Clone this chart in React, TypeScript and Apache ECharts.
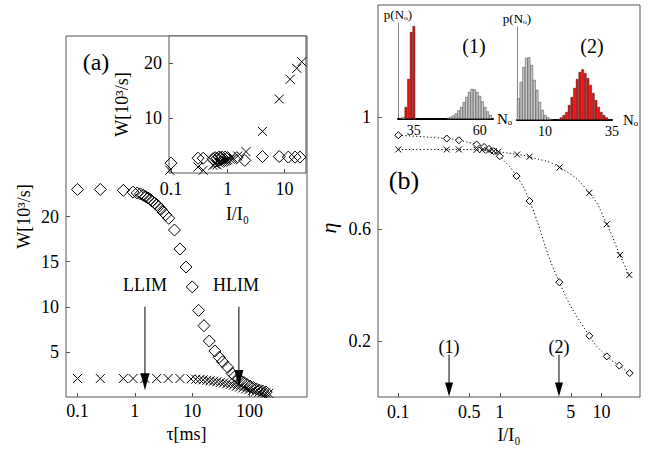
import React, { useEffect, useRef } from 'react';
import * as echarts from 'echarts';

// ---------- data ----------
// panel (a) main: W vs tau
const tauDiamond = [0.1, 0.25, 0.63, 0.93, 1.1, 1.25, 1.4, 1.55, 1.7, 1.85, 2.0, 2.2, 2.4, 2.6, 2.85, 3.1, 3.45, 3.9, 4.9, 6.1, 7.8, 10, 12.9, 16, 19.8, 24.8, 29.5, 33.8, 41.3, 49.7, 56, 63, 71, 80, 90, 102, 116, 132, 150, 170, 195];
const wDiamond = [23.0, 23.0, 22.9, 22.7, 22.6, 22.5, 22.35, 22.2, 22.05, 21.9, 21.7, 21.5, 21.3, 21.1, 20.8, 20.5, 20.2, 19.8, 18.5, 16.4, 14.4, 12.2, 9.6, 7.9, 6.2, 5.1, 4.4, 3.9, 3.3, 2.6, 2.3, 2.05, 1.8, 1.6, 1.4, 1.2, 1.05, 0.9, 0.75, 0.65, 0.55];
const tauCross = [0.1, 0.25, 0.63, 0.93, 1.5, 2.4, 3.8, 6.1, 9.5, 11.5, 13.5, 15.5, 18, 20.5, 23.5, 27, 31, 35, 40, 46, 52, 59, 67, 76, 86, 97, 112, 128, 146, 166, 190, 215];
const wCross = [2.05, 2.05, 2.05, 2.05, 2.05, 2.05, 2.05, 2.05, 2.0, 1.97, 1.93, 1.9, 1.85, 1.8, 1.75, 1.7, 1.62, 1.55, 1.48, 1.4, 1.3, 1.2, 1.1, 1.0, 0.9, 0.8, 0.7, 0.6, 0.55, 0.5, 0.45, 0.4];

// panel (a) inset: W vs I/I0
const insetICross = [0.095, 0.3, 0.37, 0.55, 0.6, 0.65, 0.7, 0.75, 0.8, 0.85, 0.9, 0.95, 1.0, 1.1, 1.25, 1.5, 2.1, 4.1, 8.1, 12.6, 16.5, 20.2];
const insetWCross = [0.5, 1.1, 0.5, 1.4, 1.6, 1.5, 1.8, 1.9, 2.0, 2.1, 2.2, 2.3, 2.4, 2.5, 2.7, 3.1, 3.9, 7.6, 13.5, 17.1, 19.1, 20.3];
const insetIDiamond = [0.1, 0.3, 0.37, 0.55, 0.6, 0.65, 0.7, 0.75, 0.8, 0.9, 1.0, 1.45, 2.0, 4.1, 8.1, 11.7, 15.4, 18.8];
const insetWDiamond = [1.8, 2.7, 2.7, 2.6, 2.8, 2.7, 2.9, 2.8, 2.9, 2.9, 2.8, 2.8, 2.3, 3.0, 3.0, 2.9, 2.9, 2.9];

// panel (b): eta vs I/I0
const bIDiamond = [0.1, 0.3, 0.395, 0.59, 0.70, 0.78, 0.87, 1.0, 1.46, 1.96, 3.85, 7.6, 11.3, 15.0, 19.0];
const bEtaDiamond = [0.935, 0.923, 0.917, 0.902, 0.893, 0.886, 0.878, 0.860, 0.789, 0.70, 0.41, 0.2185, 0.145, 0.112, 0.0855];
const bICross = [0.1, 0.3, 0.395, 0.59, 0.67, 0.78, 0.87, 0.97, 1.48, 1.96, 3.88, 7.6, 11.3, 15.2, 18.8];
const bEtaCross = [0.884, 0.884, 0.884, 0.883, 0.882, 0.880, 0.878, 0.876, 0.866, 0.858, 0.82, 0.729, 0.617, 0.507, 0.436];

// histograms p(No)
const h1GrayN = [30, 31, 48, 49, 50, 51, 52, 53, 54, 55, 56, 57, 58, 59, 60, 61, 62, 63, 64];
const h1Gray = [0.8, 2, 1, 2, 3.5, 5.5, 8.5, 12, 17, 22, 27, 30, 29.5, 27, 23, 17.5, 12, 7.5, 4];
const h1RedN = [32, 33, 34, 35];
const h1Red = [12, 40, 87, 93];
const h2GrayN = [0, 1, 2, 3, 4, 5, 6, 7, 8, 9, 10, 11, 12, 13];
const h2Gray = [21.7, 38, 53, 62, 62.7, 55, 40, 30, 18, 10, 5, 2.7, 1.2, 0.6];
const h2RedN = [15, 16, 17, 18, 19, 20, 21, 22, 23, 24, 25, 26, 27, 28, 29, 30, 31, 32, 33, 34];
const h2Red = [1, 2.5, 5, 8, 15, 23, 32, 41, 48, 50.7, 47, 42, 35, 27, 20, 13, 8, 5, 2.7, 1];

// tick labels
const tauTicks = [0.1, 1, 10, 100];
const wTicks = [5, 10, 15, 20];
const insetITicks = [0.1, 1, 10];
const insetWTicks = [10, 20];
const bITicks = [0.1, 0.5, 1, 5, 10];
const bEtaTicks = [0.2, 0.6, 1];
const h1Ticks = [35, 60];
const h2Ticks = [10, 35];

// annotations
const limitNames = ['LLIM', 'HLIM'];
const limitTau = [1.5, 65];
const stateNames = ['(1)', '(2)'];
const stateI = [0.316, 3.82];

// ---------- helpers ----------
const FONT = '"Liberation Serif","Times New Roman",serif';
const BOX = '#555';
const lg = (v: number) => Math.log10(v);
const fmtLog = (v: number) => String(parseFloat(Math.pow(10, v).toPrecision(3)));
const fmtLin = (v: number) => String(parseFloat(v.toPrecision(3)));
const toPts = (xs: number[], ys: number[]) => xs.map((x, i) => [lg(x), ys[i]]);
const toBars = (ns: number[], hs: number[]) => ns.map((n, i) => [n, hs[i]]);
const CROSS = 'path://M0,0L10,10M10,0L0,10';

function boxAxis(gridIndex: number, min: number, max: number, ticks: number[], isLog: boolean, extra: any) {
  const vals = isLog ? ticks.map(lg) : ticks;
  return {
    type: 'value',
    gridIndex,
    min,
    max,
    axisLine: { show: false, onZero: false },
    splitLine: { show: false },
    axisTick: { show: true, inside: true, length: 4, customValues: vals, lineStyle: { color: BOX } },
    axisLabel: {
      customValues: vals,
      formatter: isLog ? fmtLog : fmtLin,
      fontFamily: FONT,
      fontSize: 18,
      color: '#000',
      margin: 7,
    },
    nameTextStyle: { fontFamily: FONT, fontSize: 18, color: '#000' },
    ...extra,
  };
}

function histX(gridIndex: number, min: number, max: number, ticks: number[]) {
  return {
    type: 'value',
    gridIndex,
    min,
    max,
    axisLine: { show: true, onZero: false, lineStyle: { color: '#000', width: 2 } },
    splitLine: { show: false },
    axisTick: { show: false },
    axisLabel: { customValues: ticks, fontFamily: FONT, fontSize: 14, color: '#000', margin: 4 },
    name: 'N\u2092',
    nameLocation: 'end',
    nameGap: 4,
    nameTextStyle: { fontFamily: FONT, fontSize: 15, color: '#000' },
  };
}

function histY(gridIndex: number, max: number) {
  return {
    type: 'value',
    gridIndex,
    min: 0,
    max,
    axisLine: { show: true, onZero: false, lineStyle: { color: '#888', width: 1 } },
    splitLine: { show: false },
    axisTick: { show: false },
    axisLabel: { show: false },
    name: 'p(N\u2092)',
    nameLocation: 'end',
    nameGap: 2,
    nameTextStyle: { fontFamily: FONT, fontSize: 13, color: '#000' },
  };
}

const openStyle = { color: 'transparent', borderColor: '#000', borderWidth: 1, opacity: 1 };

function scat(ax: number, data: any[], symbol: string, size: number) {
  return { type: 'scatter', xAxisIndex: ax, yAxisIndex: ax, data, symbol, symbolSize: size, itemStyle: openStyle, silent: true };
}

function bars(ax: number, data: any[], color: string) {
  return {
    type: 'bar',
    xAxisIndex: ax,
    yAxisIndex: ax,
    data,
    barWidth: 2.65,
    barGap: '-100%',
    itemStyle: { color, borderColor: '#222', borderWidth: 0.4 },
    silent: true,
  };
}

const labelStyle = { fontFamily: FONT, fontSize: 18, color: '#000', opacity: 1 };

function buildOption() {
  const series: any[] = [];
  // (a) main
  series.push(scat(0, toPts(tauDiamond, wDiamond), 'diamond', 12));
  series.push(scat(0, toPts(tauCross, wCross), CROSS, 9));
  // (a) inset
  series.push(scat(1, toPts(insetIDiamond, insetWDiamond), 'diamond', 12));
  series.push(scat(1, toPts(insetICross, insetWCross), CROSS, 9));
  // (b)
  const lineStyle = { color: '#000', width: 1, type: [1.2, 2.4] };
  series.push({
    type: 'line', xAxisIndex: 2, yAxisIndex: 2, data: toPts(bIDiamond, bEtaDiamond),
    smooth: 0.5, symbol: 'diamond', symbolSize: 7, showSymbol: true,
    lineStyle, itemStyle: { color: '#fff', borderColor: '#000', borderWidth: 1 }, silent: true,
  });
  series.push({
    type: 'line', xAxisIndex: 2, yAxisIndex: 2, data: toPts(bICross, bEtaCross),
    smooth: 0.5, symbol: CROSS, symbolSize: 6, showSymbol: true,
    lineStyle, itemStyle: { color: 'transparent', borderColor: '#000', borderWidth: 1 }, silent: true,
  });
  // histograms
  series.push(bars(3, toBars(h1GrayN, h1Gray), '#c8c8c8'));
  series.push(bars(3, toBars(h1RedN, h1Red), '#e81010'));
  series.push(bars(4, toBars(h2GrayN, h2Gray), '#c8c8c8'));
  series.push(bars(4, toBars(h2RedN, h2Red), '#e81010'));

  // arrows (a)
  const limHead = [1.7, 2.06];
  limitTau.forEach((t, i) => {
    series.push({
      type: 'line', xAxisIndex: 0, yAxisIndex: 0, data: [[lg(t), 10], [lg(t), limHead[i]]],
      symbol: 'none', lineStyle: { color: '#000', width: 1 }, silent: true,
    });
  });
  series.push({
    type: 'scatter', xAxisIndex: 0, yAxisIndex: 0,
    data: limitTau.map((t, i) => [lg(t), limHead[i]]),
    symbol: 'triangle', symbolSize: [9, 17], symbolRotate: 180,
    itemStyle: { color: '#000', opacity: 1 }, silent: true,
  });
  series.push({
    type: 'scatter', xAxisIndex: 0, yAxisIndex: 0,
    data: limitNames.map((n, i) => ({ name: n, value: [lg(limitTau[i]) - (i === 1 ? 0.05 : 0), 12.4] })),
    symbolSize: 1, itemStyle: { color: 'transparent', opacity: 1 },
    label: { show: true, position: 'inside', formatter: '{b}', ...labelStyle },
    silent: true,
  });
  // arrows (b)
  stateI.forEach((v) => {
    series.push({
      type: 'line', xAxisIndex: 2, yAxisIndex: 2, data: [[lg(v), 0.151], [lg(v), 0.027]],
      symbol: 'none', lineStyle: { color: '#000', width: 1 }, silent: true,
    });
  });
  series.push({
    type: 'scatter', xAxisIndex: 2, yAxisIndex: 2,
    data: stateI.map((v) => [lg(v), 0.027]),
    symbol: 'triangle', symbolSize: [8, 14], symbolRotate: 180,
    itemStyle: { color: '#000', opacity: 1 }, silent: true,
  });
  series.push({
    type: 'scatter', xAxisIndex: 2, yAxisIndex: 2,
    data: stateNames.map((n, i) => ({ name: n, value: [lg(stateI[i]), 0.18] })),
    symbolSize: 1, itemStyle: { color: 'transparent', opacity: 1 },
    label: { show: true, position: 'inside', formatter: '{b}', ...labelStyle },
    silent: true,
  });

  const gridBox = { show: true, borderColor: BOX, borderWidth: 1, backgroundColor: '#fff', containLabel: false };

  return {
    animation: false,
    backgroundColor: '#fff',
    textStyle: { fontFamily: FONT },
    grid: [
      { ...gridBox, left: 66, top: 36, width: 241, height: 361 },
      { ...gridBox, left: 169, top: 36, width: 137, height: 137 },
      { ...gridBox, left: 378, top: 5, width: 262, height: 392 },
      { show: false, left: 398, top: 23, width: 95, height: 96 },
      { show: false, left: 517, top: 27, width: 95, height: 93 },
    ],
    xAxis: [
      boxAxis(0, -1.2, 3.0, tauTicks, true, { name: '\u03c4[ms]', nameLocation: 'middle', nameGap: 27, axisLabel: { customValues: tauTicks.map(lg), formatter: fmtLog, fontFamily: FONT, fontSize: 18, color: '#000', margin: 5 } }),
      boxAxis(1, -1.035, 1.38, insetITicks, true, { name: 'I/I\u2080', nameLocation: 'middle', nameGap: 32 }),
      boxAxis(2, -1.2, 1.38, bITicks, true, { name: 'I/I\u2080', nameLocation: 'middle', nameGap: 28, axisLabel: { customValues: bITicks.map(lg), formatter: fmtLog, fontFamily: FONT, fontSize: 18, color: '#000', margin: 6 } }),
      histX(3, 29, 65, h1Ticks),
      histX(4, -0.5, 35, h2Ticks),
    ],
    yAxis: [
      boxAxis(0, 0, 40, wTicks, false, { name: 'W[10\u00b3/s]', nameLocation: 'middle', nameGap: 33 }),
      boxAxis(1, 0, 25, insetWTicks, false, { name: 'W[10\u00b3/s]', nameLocation: 'middle', nameGap: 38 }),
      boxAxis(2, 0, 1.4, bEtaTicks, false, {}),
      histY(3, 96),
      histY(4, 93),
    ],
    series,
    graphic: [
      { type: 'text', x: 96, y: 62, style: { text: '(a)', fontFamily: FONT, fontSize: 24, fill: '#000', align: 'center', verticalAlign: 'middle' } },
      { type: 'text', x: 404, y: 180, style: { text: '(b)', fontFamily: FONT, fontSize: 26, fill: '#000', align: 'center', verticalAlign: 'middle' } },
      { type: 'text', x: 474, y: 46, style: { text: '(1)', fontFamily: FONT, fontSize: 20, fill: '#000', align: 'center', verticalAlign: 'middle' } },
      { type: 'text', x: 592, y: 46, style: { text: '(2)', fontFamily: FONT, fontSize: 20, fill: '#000', align: 'center', verticalAlign: 'middle' } },
      { type: 'text', x: 328, y: 228, rotation: Math.PI / 2, style: { text: '\u03b7', fontFamily: FONT, fontSize: 22, fontStyle: 'italic', fill: '#000', align: 'center', verticalAlign: 'middle' } },
    ],
  };
}

export default function App() {
  const ref = useRef<HTMLDivElement>(null);
  useEffect(() => {
    const chart = echarts.init(ref.current as HTMLDivElement, null, { renderer: 'svg' });
    chart.setOption(buildOption() as any);
    return () => chart.dispose();
  }, []);
  return (
    <div
      ref={ref}
      style={{ position: 'fixed', left: 0, top: 0, width: 649, height: 451, background: '#fff' }}
    />
  );
}
